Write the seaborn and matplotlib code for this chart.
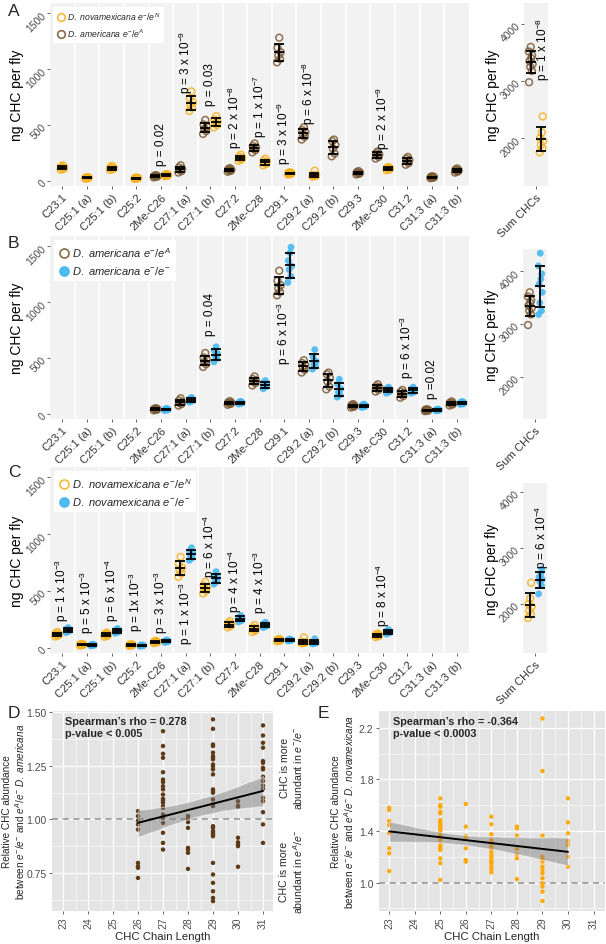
import numpy as np
import pandas as pd
import matplotlib
matplotlib.use("Agg")
import matplotlib.pyplot as plt
import seaborn as sns
from matplotlib.lines import Line2D
from matplotlib.collections import PolyCollection
from matplotlib.ticker import MultipleLocator

# ---------------- data ----------------
categories = ["C23:1", "C25:1 (a)", "C25:1 (b)", "C25:2", "2Me-C26", "C27:1 (a)",
              "C27:1 (b)", "C27:2", "2Me-C28", "C29:1", "C29:2 (a)", "C29:2 (b)",
              "C29:3", "2Me-C30", "C31:2", "C31:3 (a)", "C31:3 (b)"]

# D. novamexicana e-/eN (ng CHC per fly), one list per compound
nova_eN = [[100, 108, 115, 120, 128, 140], [20, 24, 27, 30, 32, 35],
           [98, 105, 112, 118, 124, 135], [18, 22, 24, 27, 29, 32],
           [42, 47, 50, 54, 57, 62], [625, 655, 680, 705, 740, 800],
           [478, 500, 515, 530, 548, 580], [180, 192, 200, 208, 218, 235],
           [140, 152, 162, 172, 180, 200], [58, 62, 66, 70, 73, 78],
           [40, 44, 47, 50, 53, 92], [], [], [95, 102, 108, 113, 118, 125], [], [], []]
# D. americana e-/eA
amer_eA = [[], [], [], [], [32, 37, 40, 44, 47, 52], [75, 88, 98, 108, 120, 140],
           [420, 445, 465, 485, 505, 545], [82, 90, 95, 100, 105, 115],
           [255, 275, 288, 300, 312, 335], [1060, 1090, 1120, 1150, 1190, 1280],
           [370, 395, 415, 435, 455, 480], [220, 245, 290, 320, 355, 370],
           [58, 64, 70, 74, 80, 88], [200, 215, 228, 238, 248, 265],
           [145, 160, 175, 188, 200, 215], [25, 29, 32, 35, 38, 42],
           [75, 84, 90, 95, 102, 112]]
# D. americana e-/e-
amer_ee = [[], [], [], [], [30, 35, 38, 42, 45, 50], [105, 115, 122, 128, 135, 148],
           [465, 495, 520, 540, 565, 600], [88, 94, 98, 102, 106, 114],
           [225, 242, 255, 268, 280, 298], [1175, 1230, 1290, 1320, 1370, 1440, 1490],
           [400, 425, 450, 470, 510, 575], [150, 170, 195, 225, 265, 310],
           [58, 64, 70, 75, 80, 88], [185, 198, 208, 218, 228, 240],
           [185, 195, 205, 215, 225, 240], [28, 31, 34, 37, 40, 44],
           [85, 90, 95, 100, 106, 112]]
# D. novamexicana e-/e-
nova_ee = [[135, 145, 150, 158, 165, 178], [18, 22, 24, 27, 29, 32],
           [128, 138, 145, 152, 158, 170], [14, 17, 19, 22, 24, 27],
           [48, 52, 56, 60, 63, 70], [770, 790, 810, 830, 850, 880],
           [560, 585, 600, 615, 635, 670], [228, 240, 250, 260, 270, 285],
           [178, 188, 196, 204, 212, 225], [60, 64, 67, 70, 73, 78],
           [35, 40, 44, 47, 52, 80], [], [], [120, 130, 136, 143, 150, 160], [], [], []]

sum_nova_eN = [1750, 1820, 1880, 1950, 2000, 2100, 2380]
sum_amer_eA = [2980, 3180, 3250, 3300, 3350, 3400, 3450, 3520, 3600]
sum_amer_ee = [3180, 3250, 3400, 3600, 3750, 3850, 3950, 4100, 4340]
sum_nova_ee = [2180, 2330, 2400, 2440, 2480, 2530, 2625]

pA_idx = [4, 5, 6, 7, 8, 9, 10, 13]
pA_txt = ["p = 0.02", "p = 3 x 10$^{-9}$", "p = 0.03", "p = 2 x 10$^{-8}$",
          "p = 1 x 10$^{-7}$", "p = 3 x 10$^{-9}$", "p = 6 x 10$^{-8}$", "p = 2 x 10$^{-9}$"]
pA_sum = "p = 1 x 10$^{-8}$"
pB_idx = [6, 9, 14, 15]
pB_txt = ["p = 0.04", "p = 6 x 10$^{-3}$", "p = 6 x 10$^{-3}$", "p =0.02"]
pC_idx = [0, 1, 2, 3, 4, 5, 6, 7, 8, 13]
pC_txt = ["p = 1 x 10$^{-3}$", "p = 5 x 10$^{-3}$", "p = 6 x 10$^{-4}$", "p = 1x 10$^{-3}$",
          "p = 3 x 10$^{-3}$", "p = 1 x 10$^{-3}$", "p = 6 x 10$^{-4}$", "p = 4 x 10$^{-4}$",
          "p = 4 x 10$^{-3}$", "p = 8 x 10$^{-4}$"]
pC_sum = "p = 6 x 10$^{-4}$"

# Panel D: relative abundance by chain length (americana)
D_chain = [26, 27, 28, 29, 30, 31]
D_values = [
    [1.039, 1.016, 0.995, 0.977, 0.953, 0.798, 0.783, 0.775, 0.728],
    [1.411, 1.342, 1.306, 1.287, 1.220, 1.186, 1.174, 1.155, 1.140, 1.116, 1.096,
     1.085, 1.078, 1.062, 1.054, 1.023, 1.008, 0.984, 0.938, 0.891, 0.860],
    [1.016, 1.003, 0.988, 0.961, 0.868, 0.860, 0.845, 0.770],
    [1.466, 1.422, 1.349, 1.342, 1.311, 1.295, 1.287, 1.280, 1.256, 1.248, 1.233,
     1.210, 1.140, 1.132, 1.124, 1.093, 1.070, 1.062, 0.969, 0.961, 0.946, 0.938,
     0.930, 0.922, 0.798, 0.744, 0.705, 0.666, 0.635, 0.620],
    [1.085, 1.065, 1.059, 0.915, 0.894, 0.884, 0.876, 0.780],
    [1.438, 1.391, 1.357, 1.334, 1.272, 1.264, 1.241, 1.233, 1.199, 1.179, 1.158,
     1.143, 1.101, 1.085, 1.034, 0.977, 0.891],
]
# Panel E: relative abundance by chain length (novamexicana)
E_chain = [23, 25, 26, 27, 28, 29, 30]
E_values = [
    [1.581, 1.563, 1.477, 1.446, 1.382, 1.266, 1.227, 1.090],
    [1.653, 1.601, 1.588, 1.550, 1.537, 1.485, 1.472, 1.459, 1.446, 1.434, 1.421,
     1.408, 1.395, 1.369, 1.356, 1.330, 1.292, 1.279, 1.266, 1.253, 1.188, 1.150, 1.021],
    [1.609, 1.434, 1.361, 1.343, 1.266, 1.175, 1.163],
    [1.511, 1.452, 1.374, 1.330, 1.317, 1.292, 1.279, 1.266, 1.240, 1.214, 1.194,
     1.175, 1.163, 1.150, 1.124, 1.106, 1.080],
    [1.434, 1.421, 1.364, 1.261, 1.219, 1.188, 1.028],
    [2.272, 1.865, 1.364, 1.201, 1.188, 1.163, 1.124, 1.098, 1.072, 1.034, 0.995,
     0.969, 0.930, 0.858],
    [1.653, 1.467, 1.382, 1.323, 1.292, 1.201, 1.124],
]

# ---------------- style ----------------
sns.set_theme(style="white")
plt.rcParams["font.family"] = ["Liberation Sans", "DejaVu Sans"]
plt.rcParams["mathtext.fontset"] = "custom"
plt.rcParams["mathtext.rm"] = "Liberation Sans"
plt.rcParams["mathtext.it"] = "Liberation Sans:italic"
plt.rcParams["mathtext.bf"] = "Liberation Sans:bold"

YEL, BRN, BLU = "#F5B220", "#7B5A34", "#3DB5F0"
PANEL_BG = "#F2F2F2"
TICKC = "#4D4D4D"

W, H = 606, 945
fig = plt.figure(figsize=(W / 100, H / 100), dpi=100)


def ax_px(x0, y0, x1, y1):
    return fig.add_axes([x0 / W, 1 - y1 / H, (x1 - x0) / W, (y1 - y0) / H])


JIT = [-0.07, 0.05, -0.02, 0.08, -0.05, 0.02, 0.06, -0.08, 0.0]
DODGE = 0.22


def draw_groups(ax, groups, ncat):
    for gi, (vals, color, filled) in enumerate(groups):
        xs, ys, means, sds, mx = [], [], [], [], []
        for ci in range(ncat):
            v = vals[ci]
            if not v:
                continue
            n_present = sum(1 for g in groups if g[0][ci])
            off = 0.0 if n_present == 1 else (-DODGE if gi == 0 else DODGE)
            for k, y in enumerate(v):
                xs.append(ci + off + JIT[k % len(JIT)])
                ys.append(y)
            mx.append(ci + off)
            means.append(np.mean(v))
            sds.append(np.std(v, ddof=1))
        df = pd.DataFrame({"x": xs, "y": ys})
        if filled:
            sns.scatterplot(data=df, x="x", y="y", ax=ax, color=color, s=24,
                            edgecolor="none", alpha=0.85, zorder=3, legend=False)
        else:
            sns.scatterplot(data=df, x="x", y="y", ax=ax, color=color, s=24,
                            facecolor="none", edgecolor=color, linewidth=1.1,
                            alpha=0.85, zorder=3, legend=False)
        ax.errorbar(mx, means, yerr=sds, fmt="none", ecolor="black", elinewidth=1.3,
                    capsize=3.6, capthick=1.3, zorder=4)
        ax.plot(mx, means, ls="none", marker="_", ms=7.2, mew=1.3, color="black", zorder=4)
    ax.set_xlabel("")
    ax.set_ylabel("ng CHC per fly", fontsize=10, color="black")


def style_strip_axes(ax, labels, ylim, yticks):
    ax.set_facecolor(PANEL_BG)
    for s in ax.spines.values():
        s.set_visible(False)
    n = len(labels)
    ax.set_xlim(-0.5, n - 0.5)
    for i in range(n - 1):
        ax.axvline(i + 0.5, color="white", lw=1.2, zorder=1)
    ax.set_xticks(range(n))
    ax.set_xticklabels(labels, rotation=45, ha="right", rotation_mode="anchor",
                       fontsize=8, color="#333333")
    ax.set_ylim(*ylim)
    ax.set_yticks(yticks)
    ax.set_yticklabels([str(t) for t in yticks], rotation=45, ha="right", va="center",
                       rotation_mode="anchor", fontsize=7.5, color=TICKC)
    ax.tick_params(axis="both", length=2, width=0.6, color=TICKC, pad=2,
                   bottom=True, left=True)


def add_legend(ax, entries, fs, ms):
    handles = []
    for lab, color, filled in entries:
        handles.append(Line2D([], [], ls="none", marker="o", ms=ms,
                              mfc=color if filled else "none", mec=color, mew=1.2,
                              alpha=0.9))
    ax.legend(handles, [e[0] for e in entries], loc="upper left",
              bbox_to_anchor=(0.004, 0.99), fontsize=fs, frameon=True, fancybox=False,
              facecolor="white", edgecolor="none", framealpha=1, borderpad=0.45,
              handletextpad=0.25, labelspacing=0.5, handlelength=0.9,
              borderaxespad=0.2)


def p_labels(ax, idx, txt, ys, dx=0.0):
    for i, t, y in zip(idx, txt, ys):
        ax.text(i + dx, y, t, rotation=90, ha="center", va="center", fontsize=8.5,
                color="black", zorder=5)


ncat = len(categories)
YL_MAIN = (-45, 1590)
lab_novN = r"$\mathit{D.\ novamexicana\ e^{-}/e^{N}}$"
lab_amA = r"$\mathit{D.\ americana\ e^{-}/e^{A}}$"
lab_amE = r"$\mathit{D.\ americana\ e^{-}/e^{-}}$"
lab_novE = r"$\mathit{D.\ novamexicana\ e^{-}/e^{-}}$"
MAIN_LX, SUM_LX = -0.062, -1.02

# ---------- Panel A ----------
axA = ax_px(50, 4, 469, 187)
style_strip_axes(axA, categories, YL_MAIN, [0, 500, 1000, 1500])
draw_groups(axA, [(amer_eA, BRN, False), (nova_eN, YEL, False)], ncat)
p_labels(axA, pA_idx, pA_txt, [330, 1064, 866, 580, 670, 436, 795, 571])
add_legend(axA, [(lab_novN, YEL, False), (lab_amA, BRN, False)], 6.2, 5.5)
axA.yaxis.set_label_coords(MAIN_LX, 0.5)

axAs = ax_px(524, 4, 548, 187)
style_strip_axes(axAs, ["Sum CHCs"], (1160, 4370), [2000, 3000, 4000])
draw_groups(axAs, [([sum_amer_eA], BRN, False), ([sum_nova_eN], YEL, False)], 1)
p_labels(axAs, [0], [pA_sum], [3580], dx=0.3)
axAs.yaxis.set_label_coords(SUM_LX, 0.5)

# ---------- Panel B ----------
axB = ax_px(50, 237, 469, 420)
style_strip_axes(axB, categories, YL_MAIN, [0, 500, 1000, 1500])
draw_groups(axB, [(amer_eA, BRN, False), (amer_ee, BLU, True)], ncat)
p_labels(axB, pB_idx, pB_txt, [897, 726, 600, 323])
add_legend(axB, [(lab_amA, BRN, False), (lab_amE, BLU, True)], 8.0, 6.5)
axB.yaxis.set_label_coords(MAIN_LX, 0.5)

axBs = ax_px(523, 250, 547, 420)
style_strip_axes(axBs, ["Sum CHCs"], (1200, 4420), [2000, 3000, 4000])
draw_groups(axBs, [([sum_amer_eA], BRN, False), ([sum_amer_ee], BLU, True)], 1)
axBs.yaxis.set_label_coords(SUM_LX, 0.5)

# ---------- Panel C ----------
axC = ax_px(50, 468, 469, 654)
style_strip_axes(axC, categories, YL_MAIN, [0, 500, 1000, 1500])
draw_groups(axC, [(nova_eN, YEL, False), (nova_ee, BLU, True)], ncat)
p_labels(axC, pC_idx, pC_txt, [518, 409, 518, 409, 409, 309, 900, 590, 580, 473])
add_legend(axC, [(lab_novN, YEL, False), (lab_novE, BLU, True)], 8.0, 6.5)
axC.yaxis.set_label_coords(MAIN_LX, 0.5)

axCs = ax_px(523, 484, 547, 654)
style_strip_axes(axCs, ["Sum CHCs"], (1125, 4160), [2000, 3000, 4000])
draw_groups(axCs, [([sum_nova_eN], YEL, False), ([sum_nova_ee], BLU, True)], 1)
p_labels(axCs, [0], [pC_sum], [3214], dx=0.3)
axCs.yaxis.set_label_coords(SUM_LX, 0.5)


# ---------- Panels D / E ----------
def corr_panel(ax, chains, values, color, xlim, ylim, yticks, ytl, minor_y, ylab, txt, lx):
    xs = [c for c, v in zip(chains, values) for _ in v]
    ys = [y for v in values for y in v]
    df = pd.DataFrame({"chain": xs, "rel": ys})
    ax.set_facecolor("#E4E4E4")
    for s in ax.spines.values():
        s.set_visible(False)
    ax.set_axisbelow(True)
    ax.axhline(1.0, color="#8F8F8F", lw=1.1, ls=(0, (4, 3)), zorder=1)
    sns.scatterplot(data=df, x="chain", y="rel", ax=ax, color=color, s=10,
                    edgecolor="none", zorder=3, legend=False)
    sns.regplot(data=df, x="chain", y="rel", ax=ax, scatter=False, color="black",
                ci=95, seed=3, line_kws=dict(lw=1.4, zorder=5))
    for coll in ax.collections:
        if isinstance(coll, PolyCollection):
            coll.set_facecolor("#7A7A7A")
            coll.set_alpha(0.45)
            coll.set_zorder(4)
    ax.set_xlim(*xlim)
    ax.set_ylim(*ylim)
    ax.set_xticks(range(23, 32))
    ax.set_xticklabels([str(t) for t in range(23, 32)], rotation=90, fontsize=7.5,
                       color=TICKC)
    ax.set_yticks(yticks)
    ax.set_yticklabels(ytl, fontsize=7.5, color=TICKC)
    ax.xaxis.set_minor_locator(MultipleLocator(0.5))
    ax.yaxis.set_minor_locator(MultipleLocator(minor_y))
    ax.grid(True, which="major", color="white", lw=0.9)
    ax.grid(True, which="minor", color="white", lw=0.45)
    ax.tick_params(axis="both", which="major", length=2, width=0.6, color=TICKC,
                   pad=2, bottom=True, left=True)
    ax.tick_params(axis="both", which="minor", length=0)
    ax.set_xlabel("CHC Chain Length", fontsize=8.2, labelpad=2)
    ax.set_ylabel(ylab, fontsize=7.2, linespacing=1.1)
    ax.yaxis.set_label_coords(lx, 0.5)
    ax.text(0.06, 0.975, txt, transform=ax.transAxes, ha="left", va="top",
            fontsize=7.8, fontweight="bold", linespacing=1.25, zorder=6)


axD = ax_px(52, 712, 273, 912)
corr_panel(axD, D_chain, D_values, "#5C3A16", (22.56, 31.4), (0.574, 1.505),
           [0.75, 1.0, 1.25, 1.5], ["0.75", "1.00", "1.25", "1.50"], 0.125,
           "Relative CHC abundance\nbetween $\\mathit{e^{-}/e^{-}}$ and "
           "$\\mathit{e^{A}/e^{-}}$ $\\mathit{D.\\ americana}$",
           "Spearman\u2019s rho = 0.278\np-value < 0.005", -0.112)
axD.text(1.085, 0.72, "CHC is more\nabundant in $\\mathit{e^{-}/e^{-}}$",
         transform=axD.transAxes, rotation=90, ha="center", va="center",
         fontsize=7.6, linespacing=1.15)
axD.text(1.085, 0.2, "CHC is more\nabundant in $\\mathit{e^{A}/e^{-}}$",
         transform=axD.transAxes, rotation=90, ha="center", va="center",
         fontsize=7.6, linespacing=1.15)

axE = ax_px(379, 712, 605, 912)
corr_panel(axE, E_chain, E_values, "#FFA90A", (22.6, 31.45), (0.78, 2.33),
           [1.0, 1.4, 1.8, 2.2], ["1.0", "1.4", "1.8", "2.2"], 0.2,
           "Relative CHC abundance\nbetween $\\mathit{e^{-}/e^{-}}$ and "
           "$\\mathit{e^{A}/e^{-}}$ $\\mathit{D.\\ novamexicana}$",
           "Spearman\u2019s rho = -0.364\np-value < 0.0003", -0.1)

# panel letters
for lab, x, y in [("A", 8, 12), ("B", 8, 243), ("C", 8, 473), ("D", 8, 714), ("E", 318, 714)]:
    fig.text(x / W, 1 - y / H, lab, fontsize=12.5, ha="left", va="center")

fig.savefig("out.png", dpi=100)
